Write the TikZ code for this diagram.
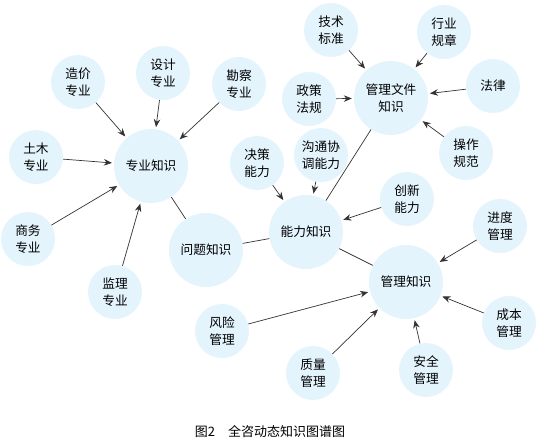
\documentclass[tikz,border=0pt]{standalone}
\usepackage{fontspec}
\newfontfamily\cjk{Noto Sans CJK SC}
\usetikzlibrary{arrows.meta}
\definecolor{bub}{HTML}{E4F4FD}
\definecolor{ln}{HTML}{333333}
\tikzset{
  sm/.style={circle,fill=bub,minimum size=54pt,inner sep=0pt,align=center,font=\cjk\fontsize{12.7}{17.5}\selectfont,text=black},
  bg/.style={circle,fill=bub,minimum size=74pt,inner sep=0pt,align=center,font=\cjk\fontsize{12.7}{17.5}\selectfont,text=black},
  arr/.style={draw=ln,line width=0.7pt,-{Stealth[length=8pt,width=6.5pt]},shorten >=2pt},
  lnk/.style={draw=ln,line width=0.7pt}
}
\begin{document}
\begin{tikzpicture}[x=1pt,y=-1pt]
\useasboundingbox (0,0) rectangle (539,440);
% big nodes
\node[bg] (zy) at (151,166) {专业知识};
\node[bg] (wt) at (206,250) {问题知识};
\node[bg] (nl) at (306,232) {能力知识};
\node[bg] (wj) at (391,98) {管理文件\\知识};
\node[bg] (gl) at (406,282) {管理知识};
% small nodes
\node[sm] (zj) at (78,82) {造价\\专业};
\node[sm] (sj) at (163,73) {设计\\专业};
\node[sm] (kc) at (239,84) {勘察\\专业};
\node[sm] (tm) at (36,157) {土木\\专业};
\node[sm] (sw) at (28,239) {商务\\专业};
\node[sm] (jl) at (115,292) {监理\\专业};
\node[sm] (jc) at (257,163) {决策\\能力};
\node[sm] (gt) at (321,155) {沟通协\\调能力};
\node[sm] (cx) at (407,199) {创新\\能力};
\node[sm] (js) at (331,30) {技术\\标准};
\node[sm] (hy) at (444,32) {行业\\规章};
\node[sm] (zc) at (309,99) {政策\\法规};
\node[sm] (fl) at (493,86) {法律};
\node[sm] (cz) at (466,153) {操作\\规范};
\node[sm] (jd) at (500,226) {进度\\管理};
\node[sm] (cb) at (509,323) {成本\\管理};
\node[sm] (aq) at (426,370) {安全\\管理};
\node[sm] (zl) at (313,373) {质量\\管理};
\node[sm] (fx) at (222,331) {风险\\管理};
% caption
\node[font=\cjk\fontsize{13}{15}\selectfont,text=black] (cap) at (270,432) {图2\hspace{1em}全咨动态知识图谱图};
% connectors
\foreach \s in {zj,sj,kc,tm,sw,jl} \draw[arr] (\s) -- (zy);
\foreach \s in {js,hy,zc,fl,cz} \draw[arr] (\s) -- (wj);
\foreach \s in {jc,gt,cx} \draw[arr] (\s) -- (nl);
\foreach \s in {jd,cb,aq,zl,fx} \draw[arr] (\s) -- (gl);
\draw[lnk] (zy) -- (wt);
\draw[lnk] (wt) -- (nl);
\draw[lnk] (wj) -- (nl);
\draw[lnk] (nl) -- (gl);
\end{tikzpicture}
\end{document}
